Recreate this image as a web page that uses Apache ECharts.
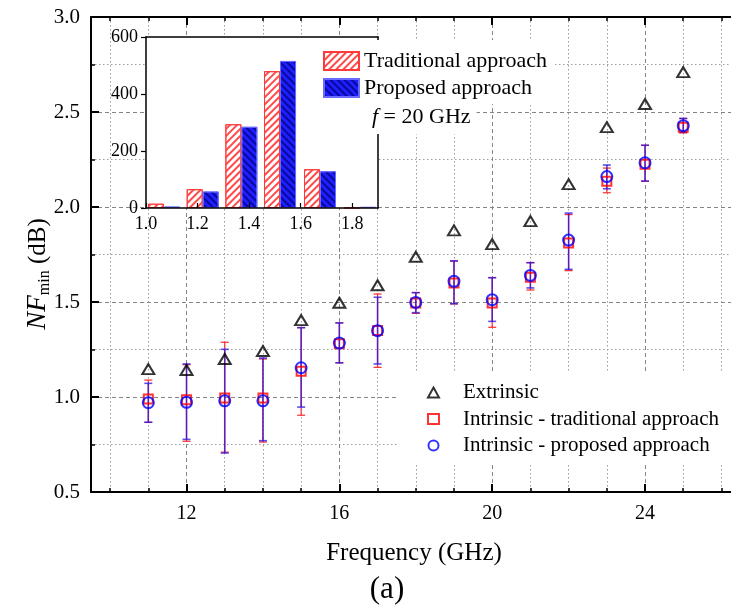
<!DOCTYPE html>
<html>
<head>
<meta charset="utf-8">
<script src="https://cdn.jsdelivr.net/npm/echarts@6/dist/echarts.min.js"></script>
<style>
  html, body { margin: 0; padding: 0; background: #fff; }
  #chart { width: 731px; height: 608px; }
</style>
</head>
<body>
<div id="chart"></div>
<script>
// Minimum noise figure versus frequency
const freq = [11, 12, 13, 14, 15, 16, 17, 18, 19, 20, 21, 22, 23, 24, 25];
const extrinsic = [1.147, 1.142, 1.20, 1.242, 1.405, 1.496, 1.588, 1.738, 1.877, 1.805, 1.926, 2.12, 2.42, 2.542, 2.71];

const tradNF   = [0.99, 0.985, 0.995, 0.995, 1.135, 1.28, 1.35, 1.495, 1.60, 1.495, 1.63, 1.81, 2.135, 2.225, 2.42];
const tradLow  = [0.867, 0.767, 0.71, 0.763, 0.904, 1.18, 1.156, 1.44, 1.49, 1.367, 1.563, 1.665, 2.075, 2.135, 2.39];
const tradHigh = [1.089, 1.17, 1.288, 1.20, 1.365, 1.39, 1.542, 1.55, 1.715, 1.628, 1.707, 1.96, 2.205, 2.325, 2.466];

const propNF   = [0.97, 0.972, 0.98, 0.98, 1.154, 1.284, 1.349, 1.498, 1.609, 1.512, 1.64, 1.826, 2.16, 2.233, 2.428];
const propLow  = [0.867, 0.777, 0.705, 0.77, 0.947, 1.18, 1.174, 1.444, 1.491, 1.398, 1.574, 1.672, 2.096, 2.137, 2.393];
const propHigh = [1.072, 1.174, 1.251, 1.205, 1.365, 1.39, 1.525, 1.549, 1.717, 1.628, 1.707, 1.968, 2.221, 2.325, 2.466];

// Axis ticks
const xMajorTicks = [12, 16, 20, 24];
const xMinorTicks = [10, 11, 13, 14, 15, 17, 18, 19, 21, 22, 23, 25, 26];

// Inset histogram at f = 20 GHz
const histBins = [1.07, 1.22, 1.37, 1.52, 1.675, 1.83];
const histTrad = [15, 66, 294, 480, 136, 1];
const histProp = [5, 58, 285, 516, 129, 4];
const insetXTicks = [1.0, 1.2, 1.4, 1.6, 1.8];

const FONT = 'Liberation Serif';

const chart = echarts.init(document.getElementById('chart'), null, { renderer: 'canvas' });

function errorBars(name, low, high, color, width, z) {
  return {
    type: 'custom',
    name: name,
    xAxisIndex: 0,
    yAxisIndex: 0,
    z: z,
    silent: true,
    data: freq.map((f, i) => [f, low[i], high[i]]),
    encode: { x: 0, y: [1, 2] },
    renderItem: function (params, api) {
      const x = api.value(0);
      const lo = api.coord([x, api.value(1)]);
      const hi = api.coord([x, api.value(2)]);
      const hw = 4;
      const style = { stroke: color, lineWidth: width };
      return {
        type: 'group',
        children: [
          { type: 'line', shape: { x1: lo[0], y1: lo[1], x2: hi[0], y2: hi[1] }, style: style },
          { type: 'line', shape: { x1: lo[0] - hw, y1: lo[1], x2: lo[0] + hw, y2: lo[1] }, style: style },
          { type: 'line', shape: { x1: hi[0] - hw, y1: hi[1], x2: hi[0] + hw, y2: hi[1] }, style: style }
        ]
      };
    }
  };
}

const majorGrid = { show: true, lineStyle: { color: '#858585', type: [4, 3], width: 1 } };
const minorGrid = { show: true, lineStyle: { color: '#9c9c9c', type: [1.5, 2.5], width: 1 } };

const option = {
  animation: false,
  backgroundColor: '#fff',
  textStyle: { fontFamily: FONT, color: '#000' },
  grid: [
    { left: 91, top: 17, right: 0, bottom: 116, outerBoundsMode: 'none' },
    { left: 146, top: 37, width: 232, height: 171, z: 2, show: true,
      backgroundColor: '#fff', borderWidth: 0, outerBoundsMode: 'none' }
  ],
  xAxis: [
    { // bottom, major
      type: 'value', gridIndex: 0, min: 9.5, max: 26.25, position: 'bottom', z: 1,
      axisLine: { show: true, onZero: false, lineStyle: { color: '#000', width: 2 } },
      axisTick: { show: true, inside: true, length: 8, customValues: xMajorTicks, lineStyle: { color: '#000', width: 2 } },
      axisLabel: { show: true, customValues: xMajorTicks, margin: 12, fontSize: 20, fontFamily: FONT, color: '#000' },
      splitLine: majorGrid
    },
    { // bottom, minor
      type: 'value', gridIndex: 0, min: 9.5, max: 26.25, position: 'bottom', z: 0,
      axisLine: { show: false, onZero: false },
      axisTick: { show: true, inside: true, length: 4, customValues: xMinorTicks, lineStyle: { color: '#000', width: 1.5 } },
      axisLabel: { show: false },
      splitLine: minorGrid
    },
    { // top, major
      type: 'value', gridIndex: 0, min: 9.5, max: 26.25, position: 'top', z: 1,
      axisLine: { show: true, onZero: false, lineStyle: { color: '#000', width: 2 } },
      axisTick: { show: true, inside: true, length: 8, customValues: xMajorTicks, lineStyle: { color: '#000', width: 2 } },
      axisLabel: { show: false },
      splitLine: { show: false }
    },
    { // top, minor
      type: 'value', gridIndex: 0, min: 9.5, max: 26.25, position: 'top', z: 1,
      axisLine: { show: false, onZero: false },
      axisTick: { show: true, inside: true, length: 4, customValues: xMinorTicks, lineStyle: { color: '#000', width: 1.5 } },
      axisLabel: { show: false },
      splitLine: { show: false }
    },
    { // inset bottom
      type: 'value', gridIndex: 1, min: 1.0, max: 1.9, position: 'bottom', z: 5,
      axisLine: { show: true, onZero: false, lineStyle: { color: '#000', width: 1.5 } },
      axisTick: { show: true, inside: true, length: 5, customValues: insetXTicks, lineStyle: { color: '#000', width: 1.2 } },
      axisLabel: { show: true, customValues: insetXTicks, margin: 7, fontSize: 18, fontFamily: FONT, color: '#000',
                   formatter: v => v.toFixed(1) },
      splitLine: { show: false }
    },
    { // inset top frame
      type: 'value', gridIndex: 1, min: 1.0, max: 1.9, position: 'top', z: 5,
      axisLine: { show: true, onZero: false, lineStyle: { color: '#000', width: 1.5 } },
      axisTick: { show: false }, axisLabel: { show: false }, splitLine: { show: false }
    }
  ],
  yAxis: [
    { // main left
      type: 'value', gridIndex: 0, min: 0.5, max: 3.0, interval: 0.5, position: 'left', z: 1,
      axisLine: { show: true, onZero: false, lineStyle: { color: '#000', width: 2 } },
      axisTick: { show: true, inside: true, length: 8, lineStyle: { color: '#000', width: 2 } },
      minorTick: { show: true, splitNumber: 2, length: 4, lineStyle: { color: '#000', width: 1.5 } },
      axisLabel: { show: true, margin: 11, fontSize: 21, fontFamily: FONT, color: '#000',
                   formatter: v => v.toFixed(1) },
      splitLine: majorGrid,
      minorSplitLine: minorGrid
    },
    { // inset left
      type: 'value', gridIndex: 1, min: 0, max: 600, interval: 200, position: 'left', z: 5,
      axisLine: { show: true, onZero: false, lineStyle: { color: '#000', width: 1.5 } },
      axisTick: { show: true, inside: false, length: 5, lineStyle: { color: '#000', width: 1.2 } },
      axisLabel: { show: true, margin: 8, fontSize: 18, fontFamily: FONT, color: '#000' },
      splitLine: { show: false }
    },
    { // inset right frame
      type: 'value', gridIndex: 1, min: 0, max: 600, position: 'right', z: 5,
      axisLine: { show: true, onZero: false, lineStyle: { color: '#000', width: 1.5 } },
      axisTick: { show: false }, axisLabel: { show: false }, splitLine: { show: false }
    }
  ],
  legend: [
    {
      orient: 'vertical', left: 397, top: 372,
      padding: [10, 40, 7, 30],
      backgroundColor: '#fff',
      itemWidth: 11, itemHeight: 10, itemGap: 5.5,
      symbolKeepAspect: true,
      textStyle: { fontFamily: FONT, fontSize: 21, color: '#000', lineHeight: 20, padding: [0, 0, 0, 19] },
      data: ['Extrinsic', 'Intrinsic - traditional approach', 'Intrinsic - proposed approach'],
      selectedMode: false, z: 10
    },
    {
      orient: 'vertical', left: 320, top: 40,
      padding: [10, 8, 5, 3],
      backgroundColor: '#fff',
      itemWidth: 35, itemHeight: 18, itemGap: 5,
      icon: 'rect',
      textStyle: { fontFamily: FONT, fontSize: 22, color: '#000', lineHeight: 18 },
      data: ['Traditional approach', 'Proposed approach'],
      selectedMode: false, z: 10
    }
  ],
  graphic: [
    {
      type: 'text', x: 368, y: 117, z: 20,
      style: {
        text: '{i|f} = 20 GHz',
        fontFamily: FONT, fontSize: 22, fill: '#000',
        verticalAlign: 'middle', align: 'left',
        backgroundColor: '#fff', padding: [6, 6, 6, 4],
        rich: { i: { fontStyle: 'italic', fontFamily: FONT, fontSize: 22 } }
      }
    },
    {
      type: 'text', x: 38, y: 274, rotation: Math.PI / 2, z: 20,
      style: {
        text: '{i|NF}{s|min}{t| (dB)}',
        fontFamily: FONT, fill: '#000', align: 'center', verticalAlign: 'middle',
        rich: {
          i: { fontStyle: 'italic', fontFamily: FONT, fontSize: 27, lineHeight: 30, verticalAlign: 'middle' },
          s: { fontFamily: FONT, fontSize: 16, lineHeight: 16, verticalAlign: 'bottom' },
          t: { fontFamily: FONT, fontSize: 25, lineHeight: 30, verticalAlign: 'middle' }
        }
      }
    },
    {
      type: 'text', x: 414, y: 553, z: 20,
      style: { text: 'Frequency (GHz)', fontFamily: FONT, fontSize: 25, fill: '#000',
               align: 'center', verticalAlign: 'middle' }
    },
    {
      type: 'text', x: 387, y: 590, z: 20,
      style: { text: '(a)', fontFamily: FONT, fontSize: 31, fill: '#000',
               align: 'center', verticalAlign: 'middle' }
    }
  ],
  series: [
    errorBars('tradErr', tradLow, tradHigh, '#ff2a2a', 1.2, 3),
    errorBars('propErr', propLow, propHigh, 'rgba(40,20,230,0.75)', 1.6, 4),
    {
      type: 'scatter', name: 'Extrinsic', xAxisIndex: 0, yAxisIndex: 0, z: 5,
      symbol: 'triangle', symbolSize: [12, 10],
      itemStyle: { color: 'rgba(0,0,0,0)', borderColor: '#000', borderWidth: 2 },
      data: freq.map((f, i) => [f, extrinsic[i]])
    },
    {
      type: 'scatter', name: 'Intrinsic - traditional approach', xAxisIndex: 0, yAxisIndex: 0, z: 5,
      symbol: 'rect', symbolSize: 9,
      itemStyle: { color: 'rgba(0,0,0,0)', borderColor: '#ff0000', borderWidth: 2 },
      data: freq.map((f, i) => [f, tradNF[i]])
    },
    {
      type: 'scatter', name: 'Intrinsic - proposed approach', xAxisIndex: 0, yAxisIndex: 0, z: 6,
      symbol: 'circle', symbolSize: 11,
      itemStyle: { color: 'rgba(0,0,0,0)', borderColor: '#0000ff', borderWidth: 2 },
      data: freq.map((f, i) => [f, propNF[i]])
    },
    {
      type: 'bar', name: 'Traditional approach', xAxisIndex: 4, yAxisIndex: 1, z: 4,
      barWidth: 16, barGap: '0%',
      itemStyle: {
        color: '#ffffff', borderColor: '#ff3a3a', borderWidth: 1,
        decal: { symbol: 'rect', symbolSize: 1, dashArrayX: [1, 0], dashArrayY: [1.2, 3], rotation: -Math.PI / 4, color: '#ff4a4a' }
      },
      data: histBins.map((b, i) => [b, histTrad[i]])
    },
    {
      type: 'bar', name: 'Proposed approach', xAxisIndex: 4, yAxisIndex: 1, z: 4,
      barWidth: 16, barGap: '0%',
      itemStyle: {
        color: '#1e1eff', borderColor: '#6a6aff', borderWidth: 1,
        decal: { symbol: 'rect', symbolSize: 1, dashArrayX: [1, 0], dashArrayY: [1.2, 3], rotation: Math.PI / 4, color: 'rgba(0,0,110,0.7)' }
      },
      data: histBins.map((b, i) => [b, histProp[i]])
    }
  ]
};

chart.setOption(option);
</script>
</body>
</html>
